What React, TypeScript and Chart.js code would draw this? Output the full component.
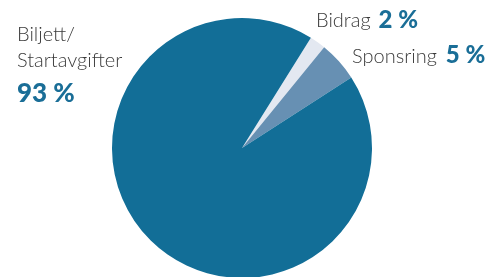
import React, { useEffect, useRef } from "react";
import { Chart, registerables } from "chart.js";

Chart.register(...registerables);

const categories = ["Bidrag", "Sponsring", "Biljett/Startavgifter"];
const values = [2, 5, 93];
const percentLabels = ["2 %", "5 %", "93 %"];
const colors = ["#e3e8f1", "#6790b3", "#126e97"];

const labelPlugin = {
  id: "labels",
  afterDraw(chart: any) {
    const ctx = chart.ctx;
    ctx.save();
    ctx.textBaseline = "alphabetic";
    ctx.textAlign = "left";
    const reg = "300 20px Lato";
    const grey = "#3a3a3a";
    const blue = "#1a6e97";
    // Biljett
    ctx.font = reg;
    ctx.fillStyle = grey;
    ctx.fillText("Biljett/", 17, 41);
    ctx.fillText("Startavgifter", 17, 67);
    ctx.font = "900 26px Lato";
    ctx.fillStyle = blue;
    ctx.fillText(percentLabels[2], 17, 102);
    // Bidrag
    ctx.font = reg;
    ctx.fillStyle = grey;
    ctx.fillText(categories[0], 316, 27);
    let w = ctx.measureText(categories[0]).width;
    ctx.font = "900 24px Lato";
    ctx.fillStyle = blue;
    ctx.fillText(percentLabels[0], 316 + w + 8, 28);
    // Sponsring
    ctx.font = reg;
    ctx.fillStyle = grey;
    ctx.fillText(categories[1], 352, 63);
    w = ctx.measureText(categories[1]).width;
    ctx.font = "900 24px Lato";
    ctx.fillStyle = blue;
    ctx.fillText(percentLabels[1], 352 + w + 9, 63);
    ctx.restore();
  },
};

export default function App() {
  const ref = useRef<HTMLCanvasElement>(null);
  useEffect(() => {
    const chart = new Chart(ref.current!, {
      type: "pie",
      data: {
        labels: categories,
        datasets: [
          {
            data: values,
            backgroundColor: colors,
            borderWidth: 0,
          },
        ],
      },
      options: {
        animation: false,
        responsive: false,
        rotation: 32,
        layout: { padding: { left: 112, right: 118, top: 18, bottom: 22 } },
        plugins: { legend: { display: false }, tooltip: { enabled: false } },
      },
      plugins: [labelPlugin],
    });
    return () => chart.destroy();
  }, []);
  return (
    <div style={{ position: "fixed", left: 0, top: 0, width: 490, height: 277, overflow: "hidden", background: "#fff" }}>
      <canvas ref={ref} width={490} height={300} style={{ display: "block" }} />
    </div>
  );
}
